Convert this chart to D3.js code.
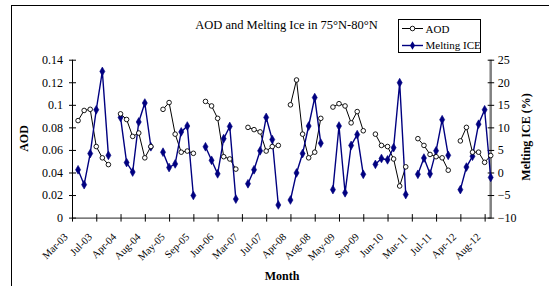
<!DOCTYPE html>
<html><head><meta charset="utf-8">
<script src="https://cdn.jsdelivr.net/npm/d3@7"></script>
<style>
html,body{margin:0;padding:0;background:#fff;overflow:hidden;}
text{font-family:"Liberation Serif","Times New Roman",serif;}
</style></head>
<body><svg id="c" width="549" height="286"></svg>
<script>
// Categories: months Mar..Sep of each year (Mar rows are empty separators)
const categories = [
 "Mar-03","Apr-03","May-03","Jun-03","Jul-03","Aug-03","Sep-03",
 "Mar-04","Apr-04","May-04","Jun-04","Jul-04","Aug-04","Sep-04",
 "Mar-05","Apr-05","May-05","Jun-05","Jul-05","Aug-05","Sep-05",
 "Mar-06","Apr-06","May-06","Jun-06","Jul-06","Aug-06","Sep-06",
 "Mar-07","Apr-07","May-07","Jun-07","Jul-07","Aug-07","Sep-07",
 "Mar-08","Apr-08","May-08","Jun-08","Jul-08","Aug-08","Sep-08",
 "Mar-09","Apr-09","May-09","Jun-09","Jul-09","Aug-09","Sep-09",
 "Mar-10","Apr-10","May-10","Jun-10","Jul-10","Aug-10","Sep-10",
 "Mar-11","Apr-11","May-11","Jun-11","Jul-11","Aug-11","Sep-11",
 "Mar-12","Apr-12","May-12","Jun-12","Jul-12","Aug-12","Sep-12"
];
const aod = [
 null,0.086,0.095,0.096,0.063,0.053,0.047,
 null,0.092,0.087,0.072,0.075,0.053,0.063,
 null,0.096,0.102,0.074,0.058,0.059,0.057,
 null,0.103,0.099,0.088,0.054,0.052,0.043,
 null,0.080,0.078,0.076,0.059,0.063,0.064,
 null,0.100,0.122,0.074,0.053,0.058,0.088,
 null,0.098,0.101,0.099,0.084,0.094,0.077,
 null,0.074,0.064,0.063,0.052,0.028,0.045,
 null,0.070,0.064,0.056,0.054,0.053,0.042,
 null,0.068,0.080,0.058,0.058,0.049,0.055
];
const meltingIce = [
 null,0.6,-2.7,4.2,13.9,22.4,3.8,
 null,12.2,2.2,0.1,11.2,15.4,5.7,
 null,4.5,1.1,1.9,9.0,10.3,-5.1,
 null,5.7,2.7,-0.3,7.5,10.2,-5.9,
 null,-2.5,0.6,4.8,12.2,7.3,-7.2,
 null,-6.1,-0.1,4.2,10.3,16.6,6.5,
 null,-3.8,10.3,-4.5,6.0,8.4,-0.4,
 null,1.8,3.1,2.8,5.5,19.9,-4.9,
 null,-0.4,3.2,-0.3,4.8,11.7,3.8,
 null,-3.8,1.2,3.6,10.7,13.9,-1.1
];
const aodTicks = [0,0.02,0.04,0.06,0.08,0.1,0.12,0.14];
const iceTicks = [-10,-5,0,5,10,15,20,25];

const FONT = '"Liberation Serif","Times New Roman",serif';
const svg = d3.select("#c");
const L = 72, R = 490.7, T = 59.7, B = 217.6;

// outer chart border (extends past the window on right/bottom)
svg.append("rect").attr("x",11.5).attr("y",5.5).attr("width",600).attr("height",400)
  .attr("fill","none").attr("stroke","#000").attr("stroke-width",1);

const x = d3.scalePoint().domain(categories).range([L, R]).padding(0);
const yL = d3.scaleLinear().domain([0,0.14]).range([B, T]);
const yR = d3.scaleLinear().domain([-10,25]).range([B, T]);

// left axis
const gL = svg.append("g").attr("transform",`translate(${L},0)`)
  .call(d3.axisLeft(yL).tickValues(aodTicks).tickSize(3).tickFormat(d=>d===0?"0":String(+d.toFixed(2))));
gL.attr("font-family",FONT);
gL.select(".domain").attr("stroke","#000").attr("d",`M0.5,${B}V${T}`);
gL.selectAll(".tick line").attr("x1",-3).attr("x2",4).attr("stroke","#000");
gL.selectAll(".tick text").attr("x",-9).attr("font-size",12).attr("fill","#000")
  .style("font-family",FONT);

// right axis
const gR = svg.append("g").attr("transform",`translate(${R},0)`)
  .call(d3.axisRight(yR).tickValues(iceTicks).tickSize(3));
gR.attr("font-family",FONT);
gR.select(".domain").attr("stroke","#808080").attr("stroke-width",2.5).attr("d",`M0,${B+1}V${T}`);
gR.selectAll(".tick line").attr("x1",-3).attr("x2",3.5).attr("stroke","#000");
gR.selectAll(".tick text").attr("x",7).attr("font-size",12).attr("fill","#000")
  .style("font-family",FONT);

// bottom axis
const tickCats = categories.filter((d,i)=>i%4===0);
const gB = svg.append("g").attr("transform",`translate(0,${B})`)
  .call(d3.axisBottom(x).tickValues(tickCats).tickSize(4));
gB.attr("font-family",FONT);
gB.select(".domain").attr("stroke","#222").attr("d",`M${L},0.5H${R}`);
gB.selectAll(".tick line").attr("y1",-3.5).attr("y2",4).attr("stroke","#000");
gB.selectAll(".tick text").attr("font-size",10.5).attr("fill","#000")
  .style("font-family",FONT)
  .attr("text-anchor","end").attr("y",0).attr("dy",0)
  .attr("transform","translate(-4,20) rotate(-45)");

// lines
const lineA = d3.line().defined(d=>d[1]!==null).x(d=>x(d[0])).y(d=>yL(d[1]));
const lineI = d3.line().defined(d=>d[1]!==null).x(d=>x(d[0])).y(d=>yR(d[1]));
const dA = categories.map((c,i)=>[c,aod[i]]);
const dI = categories.map((c,i)=>[c,meltingIce[i]]);

svg.append("path").attr("d",lineA(dA)).attr("fill","none").attr("stroke","#000").attr("stroke-width",1);
svg.append("path").attr("d",lineI(dI)).attr("fill","none").attr("stroke","#000080").attr("stroke-width",1.4);

const diamond = d3.symbol().type(d3.symbolDiamond).size(22);
svg.append("g").selectAll("path").data(dI.filter(d=>d[1]!==null)).join("path")
  .attr("d",diamond).attr("transform",d=>`translate(${x(d[0])},${yR(d[1])})`)
  .attr("fill","#000080").attr("stroke","#000080").attr("stroke-width",0.6);
svg.append("g").selectAll("circle").data(dA.filter(d=>d[1]!==null)).join("circle")
  .attr("cx",d=>x(d[0])).attr("cy",d=>yL(d[1])).attr("r",2.3)
  .attr("fill","#fff").attr("stroke","#000").attr("stroke-width",0.9);

// title
svg.append("text").attr("x",286.5).attr("y",29).attr("text-anchor","middle")
  .attr("font-size",12.5).text("AOD and Melting Ice in 75°N-80°N");

// axis titles
svg.append("text").attr("transform","translate(28,138.5) rotate(-90)").attr("text-anchor","middle")
  .attr("font-size",12).attr("font-weight","bold").text("AOD");
svg.append("text").attr("transform","translate(530,137) rotate(-90)").attr("text-anchor","middle")
  .attr("font-size",12).attr("font-weight","bold").text("Melting ICE (%)");
svg.append("text").attr("x",282).attr("y",280).attr("text-anchor","middle")
  .attr("font-size",12).attr("font-weight","bold").text("Month");

// legend
const lg = svg.append("g");
lg.append("rect").attr("x",398.5).attr("y",19.5).attr("width",82).attr("height",33)
  .attr("fill","#fff").attr("stroke","#000").attr("stroke-width",1);
lg.append("line").attr("x1",402).attr("x2",423).attr("y1",28.5).attr("y2",28.5).attr("stroke","#000");
lg.append("circle").attr("cx",412.5).attr("cy",28.5).attr("r",2.3).attr("fill","#fff").attr("stroke","#000").attr("stroke-width",0.9);
lg.append("text").attr("x",425.5).attr("y",32.5).attr("font-size",11).text("AOD");
lg.append("line").attr("x1",402).attr("x2",423).attr("y1",45.5).attr("y2",45.5).attr("stroke","#000080").attr("stroke-width",1.4);
lg.append("path").attr("d",diamond).attr("transform","translate(412.5,45.5)").attr("fill","#000080");
lg.append("text").attr("x",425.5).attr("y",49).attr("font-size",11).text("Melting ICE");
</script></body></html>
